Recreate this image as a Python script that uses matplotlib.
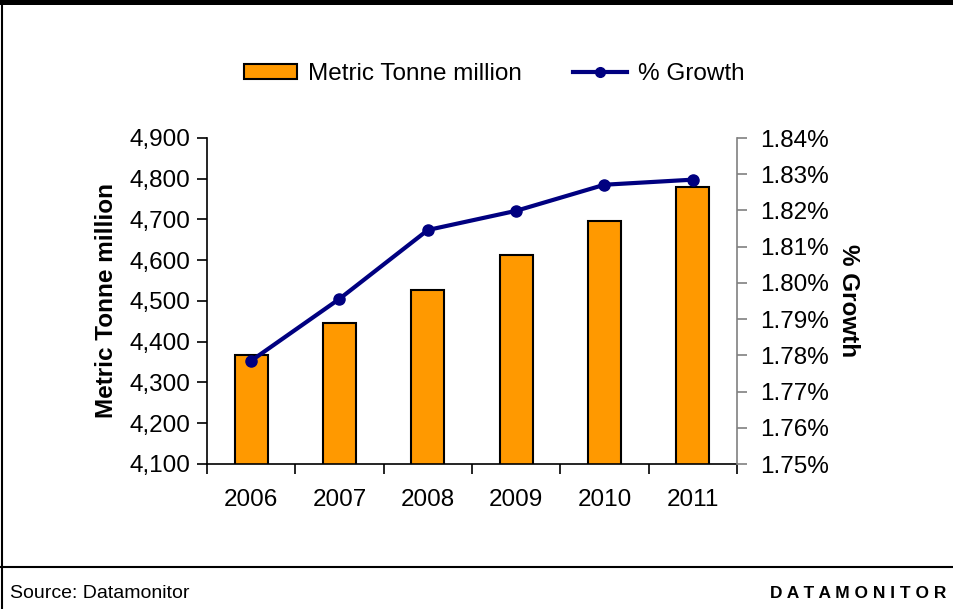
import numpy as np
import matplotlib.pyplot as plt
from matplotlib.lines import Line2D
from matplotlib.patches import Patch, Rectangle

plt.rcParams['font.family'] = ['Liberation Sans', 'DejaVu Sans']

years = ['2006', '2007', '2008', '2009', '2010', '2011']
volume = [4367, 4446, 4528, 4613, 4696, 4780]          # metric tonne million
growth = [1.7785, 1.7956, 1.8146, 1.8199, 1.8271, 1.8285]  # % growth

bar_color = '#FF9900'
line_color = '#000080'
fs = 17.5

fig = plt.figure(figsize=(9.54, 6.09), dpi=100)
ax = fig.add_axes([207 / 954, 1 - 464 / 609, 530 / 954, 326 / 609])
x = np.arange(len(years))

ax.bar(x, volume, width=0.375, color=bar_color, edgecolor='black', linewidth=1.5, zorder=2)
ax.set_xlim(-0.5, 5.5)
ax.set_ylim(4100, 4900)
ax.set_yticks(np.arange(4100, 4901, 100))
ax.set_yticklabels([f'{v:,}' for v in range(4100, 4901, 100)])
ax.set_xticks(x)
ax.set_xticklabels(years)
ax.set_xticks(np.arange(-0.5, 6, 1), minor=True)
ax.tick_params(axis='x', which='major', length=0, pad=18, labelsize=fs)
ax.tick_params(axis='x', which='minor', length=7, width=1.2, direction='out')
ax.tick_params(axis='y', length=7, width=1.2, direction='out', pad=5, labelsize=fs)
ax.set_ylabel('Metric Tonne million', fontsize=fs, fontweight='bold', labelpad=8)
for s in ['top', 'right']:
    ax.spines[s].set_visible(False)
ax.spines['left'].set_linewidth(1.2)
ax.spines['bottom'].set_linewidth(1.2)

ax2 = ax.twinx()
ax2.plot(x, growth, color=line_color, linewidth=3, marker='o', markersize=8, zorder=3)
ax2.set_ylim(1.75, 1.84)
ticks2 = np.arange(1.75, 1.8401, 0.01)
ax2.set_yticks(ticks2)
ax2.set_yticklabels([f'{t:.2f}%' for t in ticks2])
ax2.tick_params(axis='y', length=7, width=1.2, color='#808080', direction='out', pad=10, labelsize=fs)
ax2.set_ylabel('% Growth', fontsize=fs, fontweight='bold', rotation=-90, labelpad=22)
for s in ['top', 'left', 'bottom']:
    ax2.spines[s].set_visible(False)
ax2.spines['right'].set_color('#808080')
ax2.spines['right'].set_linewidth(1.2)

handles = [Patch(facecolor=bar_color, edgecolor='black', linewidth=1.5),
           Line2D([0], [0], color=line_color, linewidth=3, marker='o', markersize=7)]
fig.legend(handles, ['Metric Tonne million', '% Growth'], loc='center',
           bbox_to_anchor=(494 / 954, 1 - 74 / 609), ncol=2, frameon=False,
           fontsize=fs, handlelength=2.2, handleheight=0.6, handletextpad=0.45,
           columnspacing=2.1)

# page frame: heavy top rule, left edge, footer rule
fig.patches.append(Rectangle((0, 1 - 5 / 609), 1, 5 / 609, transform=fig.transFigure,
                             facecolor='black', edgecolor='none'))
fig.add_artist(Line2D([2 / 954, 2 / 954], [0, 1], color='black', linewidth=1.5))
fig.add_artist(Line2D([0, 1], [1 - 567 / 609, 1 - 567 / 609], color='black', linewidth=1.5))

fig.text(10 / 954, 1 - 594 / 609, 'Source: Datamonitor', fontsize=14, va='center', ha='left')
fig.text(946 / 954, 1 - 594 / 609, 'D A T A M O N I T O R', fontsize=12.5, fontweight='bold',
         va='center', ha='right')

fig.savefig('out.png', dpi=100)
